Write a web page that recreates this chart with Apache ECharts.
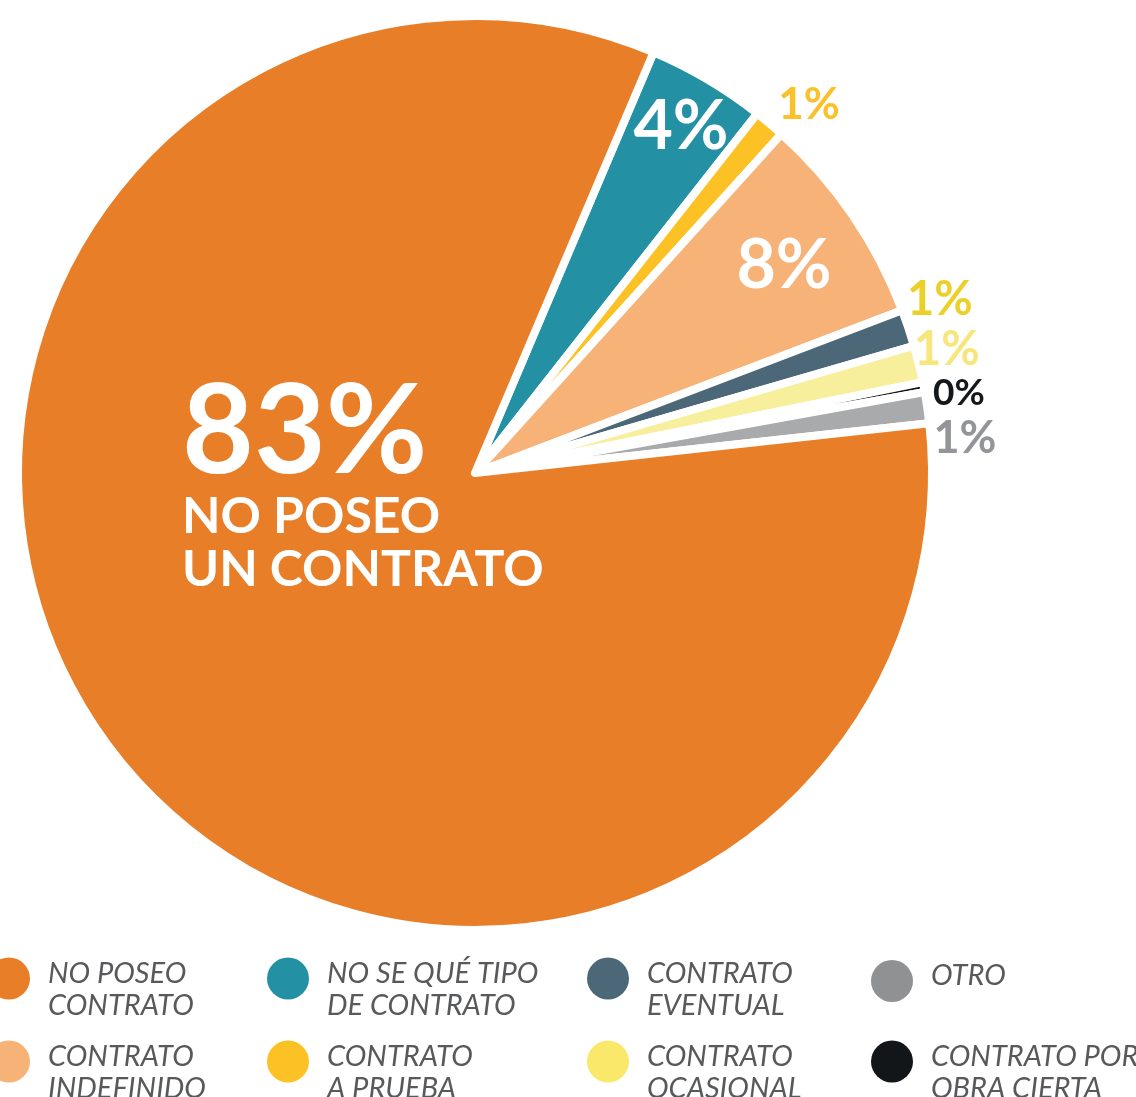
<!DOCTYPE html>
<html>
<head>
<meta charset="utf-8">
<title>Tipo de contrato</title>
<script src="https://cdn.jsdelivr.net/npm/echarts@6/dist/echarts.min.js"></script>
<style>
  html, body { margin: 0; padding: 0; background: #fff; }
  #chart { width: 1136px; height: 1097px; }
</style>
</head>
<body>
<div id="chart"></div>
<script>
  // slices, clockwise from the top edge of the big orange one
  var names = ['NO SE QUÉ TIPO\nDE CONTRATO', 'CONTRATO\nA PRUEBA', 'CONTRATO\nINDEFINIDO', 'CONTRATO\nEVENTUAL',
    'CONTRATO\nOCASIONAL', 'CONTRATO POR\nOBRA CIERTA', 'OTRO', 'NO POSEO\nCONTRATO']
  var values = [4.2, 1.1, 7.5, 1.3, 1.3, 0.35, 1.1, 83.0]
  var sliceColors = ['#2490a4', '#fcc124', '#f6b277', '#4c6878', '#f8ef9c', '#121619', '#a8aaac', '#e87e28']
  var legendColors = ['#2490a4', '#fcc124', '#f6b277', '#4c6878', '#fae86a', '#121619', '#8f9193', '#e87e28']
  var labelColors = ['#ffffff', '#fcc12a', '#ffffff', '#ecd02a', '#f7e67c', '#14181b', '#939598', '#ffffff']
  // legend, row by row
  var legendOrder = ['NO POSEO\nCONTRATO', 'NO SE QUÉ TIPO\nDE CONTRATO', 'CONTRATO\nEVENTUAL', 'OTRO',
    'CONTRATO\nINDEFINIDO', 'CONTRATO\nA PRUEBA', 'CONTRATO\nOCASIONAL', 'CONTRATO POR\nOBRA CIERTA']

  var chart = echarts.init(document.getElementById('chart'))

  // where each label sits (anchor point) and how big
  var labelPos = [
    { x: 681, y: 127, size: 68 },
    { x: 809, y: 105, size: 44 },
    { x: 784, y: 266, size: 68 },
    { x: 940, y: 300, size: 47 },
    { x: 947, y: 350, size: 47 },
    { x: 959, y: 393, size: 37 },
    { x: 965, y: 438, size: 45 },
    null
  ]

  var data = names.map(function (n, i) {
    var item = {
      name: n,
      value: values[i],
      itemStyle: { color: sliceColors[i] },
      label: { color: labelColors[i], fontWeight: 'bold' }
    }
    if (labelPos[i]) item.label.fontSize = labelPos[i].size
    return item
  })
  // big label on the orange slice
  data[7].label = {
    color: '#fff',
    formatter: function (p) {
      return '{a|' + Math.round(p.value) + '%}\n{b|NO POSEO}\n{b|UN CONTRATO}'
    },
    rich: {
      a: { fontSize: 124, fontWeight: 'bold', color: '#fff', lineHeight: 114, fontFamily: 'Lato' },
      b: { fontSize: 50, fontWeight: 'bold', color: '#fff', lineHeight: 53, fontFamily: 'Lato' }
    }
  }

  var colLeft = [-12, 267, 587, 871]
  var rowMid = [978, 1061]
  var legends = legendOrder.map(function (n, k) {
    var i = names.indexOf(n)
    var twoLines = n.indexOf('\n') >= 0
    return {
      left: colLeft[k % 4],
      top: rowMid[Math.floor(k / 4)] - (twoLines ? 32 : 18),
      orient: 'vertical',
      padding: 0,
      icon: 'circle',
      itemWidth: 42,
      itemHeight: 42,
      selectedMode: false,
      data: [{ name: n, itemStyle: { color: legendColors[i], borderWidth: 0 } }],
      formatter: function (name) {
        var lines = name.split('\n').map(function (s) { return '{t|' + s + '}' })
        // spacer line pushes the text a bit below the dot, like the original
        return twoLines ? '{s| }\n' + lines.join('\n') : lines.join('\n') + '\n{s| }'
      },
      textStyle: {
        fontFamily: 'Lato',
        fontStyle: 'italic',
        fontSize: 29,
        color: '#58595b',
        rich: {
          t: { fontFamily: 'Lato', fontStyle: 'italic', fontSize: 29, color: '#58595b', lineHeight: 32, padding: [0, 0, 0, 13] },
          s: { fontSize: 1, lineHeight: twoLines ? 23 : 10 }
        }
      }
    }
  })

  chart.setOption({
    backgroundColor: '#fff',
    animation: false,
    legend: legends,
    series: [{
      type: 'pie',
      center: [475, 473],
      radius: 457,
      startAngle: 67.0,
      clockwise: true,
      avoidLabelOverlap: false,
      itemStyle: { borderColor: '#fff', borderWidth: 8 },
      label: {
        show: true,
        position: 'inside',
        fontFamily: 'Lato',
        fontWeight: 'bold',
        formatter: function (p) { return Math.round(p.value) + '%' }
      },
      labelLine: { show: false },
      labelLayout: function (p) {
        var pos = labelPos[p.dataIndex]
        if (pos) return { x: pos.x, y: pos.y, align: 'center', verticalAlign: 'middle' }
        return { x: 182, y: 376, align: 'left', verticalAlign: 'top' }
      },
      emphasis: { disabled: true },
      data: data
    }]
  })
</script>
</body>
</html>
